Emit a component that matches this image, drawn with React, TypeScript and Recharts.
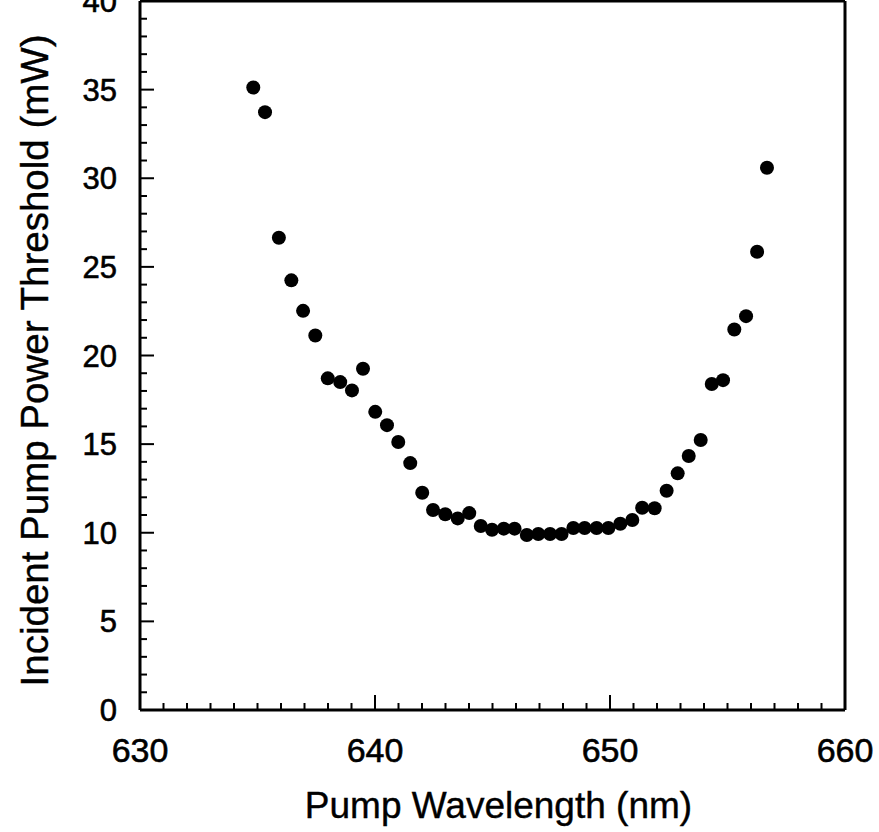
import React from "react"
import { ScatterChart, Scatter, XAxis, YAxis, ReferenceLine } from "recharts"

// pump wavelength (nm) for each threshold measurement
const wavelength = [
  634.82, 635.32, 635.91, 636.44, 636.94, 637.46, 637.99, 638.52, 639.02, 639.49,
  640.01, 640.51, 640.99, 641.5, 642.01, 642.47, 642.99, 643.52, 644.01, 644.5,
  644.98, 645.48, 645.94, 646.46, 646.95, 647.45, 647.94, 648.44, 648.92, 649.43,
  649.93, 650.44, 650.95, 651.37, 651.9, 652.41, 652.88, 653.35, 653.86, 654.33,
  654.81, 655.29, 655.79, 656.26, 656.68,
]

// incident pump power threshold (mW)
const threshold = [
  35.12, 33.73, 26.64, 24.24, 22.52, 21.13, 18.71, 18.5, 18.03, 19.25,
  16.82, 16.07, 15.12, 13.93, 12.26, 11.28, 11.04, 10.81, 11.11, 10.38,
  10.17, 10.23, 10.23, 9.87, 9.93, 9.93, 9.93, 10.27, 10.27, 10.27,
  10.27, 10.51, 10.72, 11.41, 11.38, 12.37, 13.35, 14.33, 15.23, 18.39,
  18.61, 21.47, 22.22, 25.85, 30.59,
]

const xLabels = [630, 640, 650, 660]
const yLabels = [0, 5, 10, 15, 20, 25, 30, 35, 40]

// minor ticks every 1 nm / 1 mW, labels only on the major ones
const xTicks: number[] = []
for (let v = 630; v <= 660; v++) xTicks.push(v)
const yTicks: number[] = []
for (let v = 0; v <= 40; v++) yTicks.push(v)

const points = wavelength.map((x, i) => ({ x, y: threshold[i] }))

const font = "'Liberation Sans', Arial, Helvetica, sans-serif"

function XTick({ x, y, payload }: any) {
  const major = xLabels.includes(payload.value)
  return (
    <g>
      <line x1={x} x2={x} y1={y} y2={y - (major ? 15 : 7)} stroke="#000" strokeWidth={2} />
      {major && (
        <text x={x} y={y + 52} textAnchor="middle" fontSize={34} fontFamily={font}
          fill="#000" stroke="#000" strokeWidth={0.6}>
          {payload.value}
        </text>
      )}
    </g>
  )
}

function YTick({ x, y, payload }: any) {
  const major = yLabels.includes(payload.value)
  return (
    <g>
      <line x1={x} x2={x + (major ? 14 : 7)} y1={y} y2={y} stroke="#000" strokeWidth={2} />
      {major && (
        <text x={x - 23} y={y + 11} textAnchor="end" fontSize={31} fontFamily={font}
          fill="#000" stroke="#000" strokeWidth={0.6}>
          {payload.value}
        </text>
      )}
    </g>
  )
}

function XTitle({ viewBox }: any) {
  const cx = viewBox.x + viewBox.width / 2 + 6
  return (
    <text x={cx} y={818} textAnchor="middle" fontSize={37} fontFamily={font}
      fill="#000" stroke="#000" strokeWidth={0.4}>
      Pump Wavelength (nm)
    </text>
  )
}

function YTitle({ viewBox }: any) {
  const cy = viewBox.y + viewBox.height / 2 + 5
  return (
    <text
      x={34}
      y={cy}
      transform={`rotate(-90, 34, ${cy})`}
      textAnchor="middle"
      dominantBaseline="central"
      fontSize={38.5}
      fontFamily={font}
      fill="#000"
      stroke="#000"
      strokeWidth={0.4}
    >
      Incident Pump Power Threshold (mW)
    </text>
  )
}

const Dot = (props: any) => <circle cx={props.cx} cy={props.cy} r={7} fill="#000" />

export default function App() {
  return (
    <div style={{ position: "absolute", left: 0, top: 0, width: 879, height: 832, background: "#fff" }}>
      <ScatterChart width={879} height={832} margin={{ top: 1, right: 34, bottom: 0, left: 0 }}>
        <XAxis
          type="number"
          dataKey="x"
          domain={[630, 660]}
          ticks={xTicks}
          interval={0}
          height={122}
          tickSize={0}
          tickMargin={0}
          tick={<XTick />}
          axisLine={{ stroke: "#000", strokeWidth: 3 }}
          label={<XTitle />}
        />
        <YAxis
          type="number"
          dataKey="y"
          domain={[0, 40]}
          ticks={yTicks}
          interval={0}
          width={140}
          tickSize={0}
          tickMargin={0}
          tick={<YTick />}
          axisLine={{ stroke: "#000", strokeWidth: 3 }}
          label={<YTitle />}
        />
        <ReferenceLine y={40} stroke="#000" strokeWidth={3} />
        <ReferenceLine x={660} stroke="#000" strokeWidth={3} />
        <Scatter data={points} shape={<Dot />} isAnimationActive={false} />
      </ScatterChart>
    </div>
  )
}
